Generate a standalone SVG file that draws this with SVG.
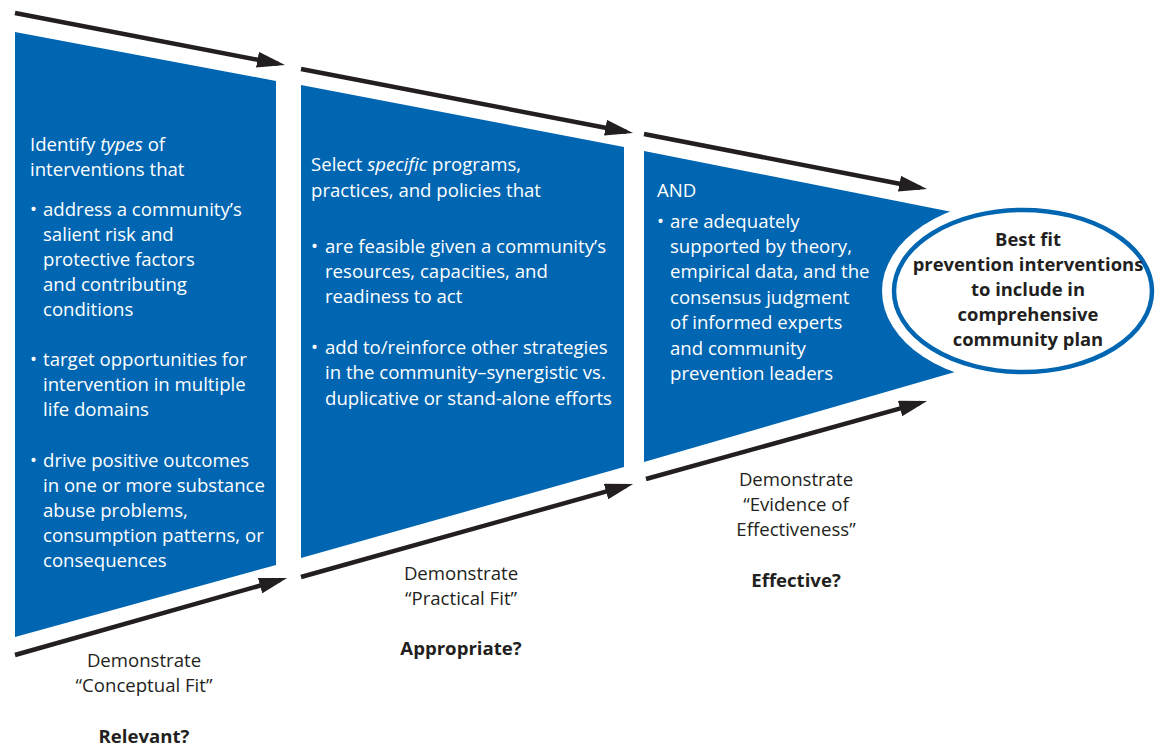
<svg xmlns="http://www.w3.org/2000/svg" width="1157" height="746" viewBox="0 0 1157 746">
<style>
.panel{fill:#0066b2}
.wt{fill:#ffffff;font-family:"Open Sans","Liberation Sans",sans-serif;font-size:18.6px}
.lb{fill:#231f20;font-family:"Open Sans","Liberation Sans",sans-serif;font-size:18.6px;text-anchor:middle}
.bd{font-weight:bold}
.et{fill:#231f20;font-family:"Open Sans","Liberation Sans",sans-serif;font-size:18.4px;font-weight:bold;text-anchor:middle}
.arr{stroke:#231f20;stroke-width:4.5;fill:none;marker-end:url(#ah)}
</style>
<defs>
<marker id="ah" viewBox="0 0 28 16" refX="21" refY="8" markerWidth="28" markerHeight="16" markerUnits="userSpaceOnUse" orient="auto">
<path d="M0,0 L28,8 L0,16 z" fill="#231f20"/>
</marker>
</defs>
<rect width="1157" height="746" fill="#ffffff"/>
<g id="connectors">
<line class="arr" x1="15" y1="13" x2="278.1" y2="63.7"/>
<line class="arr" x1="301" y1="69" x2="626.1" y2="131.7"/>
<line class="arr" x1="644" y1="134" x2="920.1" y2="187.7"/>
<line class="arr" x1="15" y1="655" x2="280.3" y2="579.9"/>
<line class="arr" x1="301" y1="577" x2="626.3" y2="485.9"/>
<line class="arr" x1="646" y1="479" x2="920.3" y2="402.9"/>
</g>
<g id="panel1">
<polygon class="panel" points="15,32 276,81 276,565 15,637"/>
<text class="wt"><tspan x="30" y="151">Identify <tspan font-style="italic">types</tspan> of</tspan><tspan x="30" y="176">interventions that</tspan>
<tspan x="30" y="216">• </tspan><tspan x="43" y="216">address a community’s</tspan><tspan x="43" y="241">salient risk and</tspan><tspan x="43" y="266">protective factors</tspan><tspan x="43" y="291">and contributing</tspan><tspan x="43" y="316">conditions</tspan>
<tspan x="30" y="366">• </tspan><tspan x="43" y="366">target opportunities for</tspan><tspan x="43" y="391">intervention in multiple</tspan><tspan x="43" y="416">life domains</tspan>
<tspan x="30" y="467">• </tspan><tspan x="43" y="467">drive positive outcomes</tspan><tspan x="43" y="492">in one or more substance</tspan><tspan x="43" y="517">abuse problems,</tspan><tspan x="43" y="542">consumption patterns, or</tspan><tspan x="43" y="567">consequences</tspan></text>
</g>
<g id="panel2">
<polygon class="panel" points="301,85 624,147 624,467 301,558"/>
<text class="wt"><tspan x="311" y="171">Select <tspan font-style="italic">specific</tspan> programs,</tspan><tspan x="311" y="197">practices, and policies that</tspan>
<tspan x="311" y="253">• </tspan><tspan x="325" y="253">are feasible given a community’s</tspan><tspan x="325" y="278">resources, capacities, and</tspan><tspan x="325" y="303">readiness to act</tspan>
<tspan x="311" y="354">• </tspan><tspan x="325" y="354">add to/reinforce other strategies</tspan><tspan x="325" y="379">in the community–synergistic vs.</tspan><tspan x="325" y="405">duplicative or stand-alone efforts</tspan></text>
</g>
<g id="panel3">
<polygon class="panel" points="644,151 1000,221.5 1000,359 644,462"/>
<text class="wt"><tspan x="657" y="197">AND</tspan>
<tspan x="657" y="228">• </tspan><tspan x="670" y="228">are adequately</tspan><tspan x="670" y="253">supported by theory,</tspan><tspan x="670" y="278">empirical data, and the</tspan><tspan x="670" y="304">consensus judgment</tspan><tspan x="670" y="329">of informed experts</tspan><tspan x="670" y="355">and community</tspan><tspan x="670" y="380">prevention leaders</tspan></text>
</g>
<g id="outcome">
<ellipse cx="1023" cy="291" rx="141" ry="93" fill="#ffffff"/>
<ellipse cx="1023" cy="291" rx="129" ry="81" fill="#ffffff" stroke="#0066b2" stroke-width="4.5"/>
<text class="et"><tspan x="1028" y="246">Best fit</tspan><tspan x="1028" y="271">prevention interventions</tspan><tspan x="1028" y="296">to include in</tspan><tspan x="1028" y="321">comprehensive</tspan><tspan x="1028" y="346">community plan</tspan></text>
</g>
<g id="label1">
<text class="lb"><tspan x="144" y="667">Demonstrate</tspan><tspan x="144" y="692">“Conceptual Fit”</tspan><tspan x="144" y="743" class="bd">Relevant?</tspan></text>
</g>
<g id="label2">
<text class="lb"><tspan x="461" y="580">Demonstrate</tspan><tspan x="461" y="605">“Practical Fit”</tspan><tspan x="461" y="655" class="bd">Appropriate?</tspan></text>
</g>
<g id="label3">
<text class="lb"><tspan x="796" y="486">Demonstrate</tspan><tspan x="796" y="511">“Evidence of</tspan><tspan x="796" y="536">Effectiveness”</tspan><tspan x="796" y="587" class="bd">Effective?</tspan></text>
</g>
</svg>
